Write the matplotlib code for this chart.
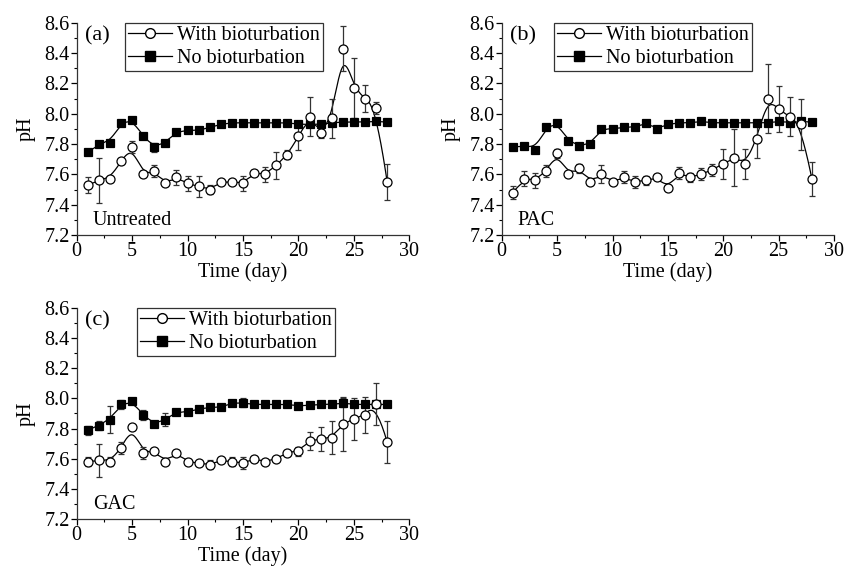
import numpy as np
import matplotlib
matplotlib.use('Agg')
import matplotlib.pyplot as plt
from matplotlib.ticker import MultipleLocator
from matplotlib.lines import Line2D

plt.rcParams['font.family'] = 'Liberation Serif'
plt.rcParams['font.size'] = 14.5

days = np.arange(1, 29)

# (a) Untreated
a_no = [7.745, 7.80, 7.81, 7.94, 7.96, 7.85, 7.78, 7.81, 7.88, 7.89, 7.89, 7.91, 7.93, 7.94,
        7.94, 7.94, 7.94, 7.94, 7.94, 7.93, 7.93, 7.93, 7.94, 7.945, 7.945, 7.945, 7.95, 7.945]
a_no_err = [0.02, 0.01, 0.01, 0.02, 0.02, 0.02, 0.03, 0.01, 0.02, 0.01, 0.01, 0.01, 0.01, 0.01,
            0.01, 0.01, 0.01, 0.01, 0.01, 0.01, 0.01, 0.01, 0.01, 0.01, 0.01, 0.01, 0.01, 0.01]
a_bio = [7.53, 7.56, 7.57, 7.69, 7.78, 7.60, 7.62, 7.54, 7.58, 7.54, 7.52, 7.50, 7.55, 7.55,
         7.54, 7.61, 7.60, 7.66, 7.73, 7.85, 7.98, 7.87, 7.97, 8.43, 8.17, 8.10, 8.04, 7.55]
a_bio_err = [0.05, 0.15, 0.02, 0.01, 0.04, 0.02, 0.04, 0.02, 0.05, 0.05, 0.07, 0.03, 0.01, 0.01,
             0.05, 0.02, 0.05, 0.09, 0.03, 0.09, 0.13, 0.03, 0.13, 0.15, 0.20, 0.09, 0.04, 0.12]

# (b) PAC
b_no = [7.78, 7.79, 7.76, 7.91, 7.94, 7.82, 7.79, 7.80, 7.90, 7.90, 7.91, 7.91, 7.94, 7.90,
        7.93, 7.94, 7.94, 7.95, 7.94, 7.94, 7.94, 7.94, 7.94, 7.94, 7.95, 7.94, 7.95, 7.945]
b_no_err = [0.01, 0.01, 0.02, 0.02, 0.01, 0.02, 0.01, 0.01, 0.01, 0.01, 0.02, 0.01, 0.01, 0.02,
            0.01, 0.01, 0.01, 0.01, 0.01, 0.01, 0.01, 0.01, 0.01, 0.01, 0.01, 0.01, 0.01, 0.01]
b_bio = [7.48, 7.57, 7.56, 7.62, 7.74, 7.60, 7.64, 7.55, 7.60, 7.55, 7.58, 7.55, 7.56, 7.58,
         7.51, 7.61, 7.58, 7.60, 7.63, 7.67, 7.71, 7.67, 7.83, 8.10, 8.03, 7.98, 7.93, 7.57]
b_bio_err = [0.04, 0.05, 0.05, 0.04, 0.03, 0.01, 0.03, 0.02, 0.06, 0.01, 0.04, 0.04, 0.03, 0.02,
             0.02, 0.04, 0.03, 0.04, 0.04, 0.10, 0.19, 0.10, 0.12, 0.23, 0.15, 0.13, 0.17, 0.11]

# (c) GAC
c_no = [7.79, 7.82, 7.86, 7.96, 7.98, 7.89, 7.83, 7.86, 7.91, 7.91, 7.93, 7.94, 7.94, 7.97,
        7.97, 7.96, 7.96, 7.96, 7.96, 7.95, 7.955, 7.96, 7.96, 7.97, 7.96, 7.96, 7.96, 7.96]
c_no_err = [0.03, 0.03, 0.09, 0.03, 0.01, 0.03, 0.01, 0.04, 0.01, 0.01, 0.01, 0.01, 0.02, 0.01,
            0.03, 0.01, 0.01, 0.01, 0.01, 0.01, 0.01, 0.01, 0.01, 0.03, 0.01, 0.01, 0.01, 0.01]
c_bio = [7.58, 7.59, 7.58, 7.67, 7.81, 7.64, 7.65, 7.58, 7.64, 7.58, 7.57, 7.56, 7.59, 7.58,
         7.57, 7.60, 7.58, 7.60, 7.64, 7.65, 7.72, 7.73, 7.74, 7.83, 7.865, 7.89, 7.965, 7.71]
c_bio_err = [0.03, 0.11, 0.03, 0.04, 0.02, 0.04, 0.01, 0.01, 0.02, 0.01, 0.01, 0.03, 0.01, 0.03,
             0.04, 0.02, 0.01, 0.01, 0.02, 0.03, 0.06, 0.08, 0.11, 0.18, 0.14, 0.12, 0.14, 0.14]


def bspline(x, y, n=600):
    # clamped cubic B-spline, data points as control points (Origin "B-Spline")
    P = np.column_stack([x, y]).astype(float)
    k = 3
    m = len(P)
    knots = np.concatenate([np.zeros(k), np.arange(m - k + 1), np.full(k, m - k)]).astype(float)
    ts = np.linspace(0, m - k, n)
    out = []
    for t in ts:
        s = min(int(np.searchsorted(knots, t, side='right') - 1), m - 1)
        d = [P[j + s - k].copy() for j in range(k + 1)]
        for r in range(1, k + 1):
            for j in range(k, r - 1, -1):
                i = j + s - k
                den = knots[i + k + 1 - r] - knots[i]
                al = 0 if den == 0 else (t - knots[i]) / den
                d[j] = (1 - al) * d[j - 1] + al * d[j]
        out.append(d[k])
    out = np.array(out)
    return out[:, 0], out[:, 1]


fig = plt.figure(figsize=(8.53, 5.71), dpi=100)
ax_a = fig.add_axes([0.0899, 0.5884, 0.3900, 0.3718])
ax_b = fig.add_axes([0.5882, 0.5884, 0.3896, 0.3718])
ax_c = fig.add_axes([0.0899, 0.0911, 0.3900, 0.3695])

panels = [
    (ax_a, a_no, a_no_err, a_bio, a_bio_err, '(a)', 'Untreated', 0.144),
    (ax_b, b_no, b_no_err, b_bio, b_bio_err, '(b)', 'PAC', 0.157),
    (ax_c, c_no, c_no_err, c_bio, c_bio_err, '(c)', 'GAC', 0.18),
]

for ax, no, no_err, bio, bio_err, tag, name, legx in panels:
    for yv, ev, mk, fc in [(no, no_err, 's', 'black'), (bio, bio_err, 'o', 'white')]:
        sx, sy = bspline(days, yv)
        ax.plot(sx, sy, color='black', lw=0.9, zorder=2)
        ax.errorbar(days, yv, yerr=ev, fmt='none', ecolor='#333333', elinewidth=0.9,
                    capsize=2, capthick=0.9, zorder=3)
        ax.plot(days, yv, mk, ls='none', ms=5.5 if mk == 's' else 6.5, mfc=fc, mec='black',
                mew=0.9, zorder=4)
    ax.set_xlim(0, 30)
    ax.set_ylim(7.2, 8.6)
    ax.xaxis.set_major_locator(MultipleLocator(5))
    ax.xaxis.set_minor_locator(MultipleLocator(2.5))
    ax.yaxis.set_major_locator(MultipleLocator(0.2))
    ax.yaxis.set_minor_locator(MultipleLocator(0.1))
    ax.set_yticklabels(['%.1f' % v for v in ax.get_yticks()])
    ax.tick_params(which='major', direction='out', length=4, width=0.9, pad=1)
    ax.tick_params(which='minor', direction='out', length=2, width=0.8)
    for sp in ['top', 'right']:
        ax.spines[sp].set_visible(False)
    for sp in ['left', 'bottom']:
        ax.spines[sp].set_color('#333333')
        ax.spines[sp].set_linewidth(0.9)
    ax.set_xlabel('Time (day)', labelpad=1)
    ax.set_ylabel('pH', labelpad=6)
    ax.text(0.026, 0.94, tag, transform=ax.transAxes, ha='left', va='center', fontsize=16)
    ax.text(0.048, 0.07, name, transform=ax.transAxes, ha='left', va='center')
    handles = [
        Line2D([], [], color='black', lw=0.9, marker='o', ms=7, mfc='white', mec='black'),
        Line2D([], [], color='black', lw=0.9, marker='s', ms=6.5, mfc='black', mec='black'),
    ]
    leg = ax.legend(handles, ['With bioturbation', 'No bioturbation'], loc='upper left',
                    bbox_to_anchor=(legx, 1.0), frameon=True, fancybox=False,
                    handlelength=2.2, handletextpad=0.25, borderpad=0.15, labelspacing=0.2,
                    borderaxespad=0, fontsize=14.5)
    leg.get_frame().set_edgecolor('black')
    leg.get_frame().set_linewidth(0.9)

fig.savefig('out.png', dpi=100)
